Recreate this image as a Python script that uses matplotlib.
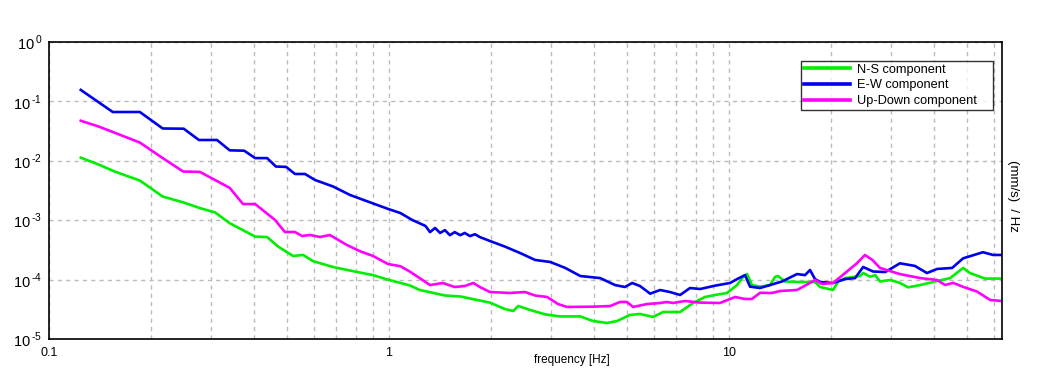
import math
import matplotlib
matplotlib.use("Agg")
import matplotlib.pyplot as plt
from matplotlib.ticker import LogLocator, FuncFormatter, NullFormatter

plt.rcParams['font.family'] = ['Liberation Sans', 'DejaVu Sans']
plt.rcParams['mathtext.fontset'] = 'custom'
plt.rcParams['mathtext.rm'] = 'Liberation Sans'

# PSD, (mm/s)^2/Hz vs frequency in Hz
ns_freq = [0.124, 0.141, 0.156, 0.185, 0.216, 0.248, 0.278, 0.308, 0.340, 0.404,
           0.438, 0.472, 0.522, 0.559, 0.597, 0.684, 0.768, 0.897, 1.00, 1.15,
           1.23, 1.46, 1.62, 1.98, 2.19, 2.32, 2.40, 2.60, 2.88, 3.18,
           3.65, 3.98, 4.38, 4.69, 5.11, 5.47, 5.98, 6.40, 7.18, 7.84,
           8.50, 9.09, 9.86, 10.56, 10.99, 11.30, 11.68, 12.34, 13.21, 13.65,
           13.93, 14.61, 16.17, 17.90, 18.52, 20.23, 20.94, 21.95, 24.28, 24.8,
           26.0, 26.9, 27.8, 29.8, 31.8, 33.6, 36.5, 40.4, 44.7, 48.8,
           51.1, 56.6, 63.5]
ns_psd = [1.13e-2, 8.5e-3, 6.6e-3, 4.65e-3, 2.5e-3, 2.0e-3, 1.6e-3, 1.35e-3, 8.9e-4, 5.3e-4,
          5.2e-4, 3.6e-4, 2.5e-4, 2.6e-4, 2.05e-4, 1.63e-4, 1.42e-4, 1.19e-4, 9.85e-5, 8.0e-5,
          6.7e-5, 5.4e-5, 5.2e-5, 4.1e-5, 3.2e-5, 2.96e-5, 3.6e-5, 3.08e-5, 2.6e-5, 2.4e-5,
          2.4e-5, 2.01e-5, 1.86e-5, 2.01e-5, 2.54e-5, 2.64e-5, 2.35e-5, 2.85e-5, 2.85e-5, 4.04e-5,
          5.1e-5, 5.5e-5, 5.95e-5, 8.1e-5, 1.11e-4, 1.24e-4, 8.1e-5, 7.6e-5, 8.1e-5, 1.11e-4,
          1.15e-4, 9.3e-5, 9.1e-5, 9.1e-5, 7.5e-5, 6.7e-5, 9.3e-5, 1.06e-4, 1.15e-4, 1.29e-4,
          1.12e-4, 1.19e-4, 9.3e-5, 9.85e-5, 8.8e-5, 7.4e-5, 8.1e-5, 9.3e-5, 1.06e-4, 1.57e-4,
          1.29e-4, 1.04e-4, 1.04e-4]

ew_freq = [0.124, 0.154, 0.185, 0.216, 0.249, 0.276, 0.312, 0.340, 0.375, 0.404,
           0.438, 0.465, 0.498, 0.529, 0.566, 0.606, 0.684, 0.768, 0.879, 0.993,
           1.08, 1.17, 1.28, 1.32, 1.366, 1.413, 1.46, 1.51, 1.56, 1.62,
           1.67, 1.73, 1.79, 1.85, 1.98, 2.19, 2.43, 2.69, 2.98, 3.30,
           3.65, 4.18, 4.62, 4.94, 5.19, 5.47, 5.86, 6.27, 6.70, 7.18,
           7.68, 8.22, 9.09, 10.07, 10.56, 11.14, 11.53, 12.34, 13.21, 14.32,
           15.85, 16.73, 17.31, 17.90, 18.52, 20.23, 21.95, 23.48, 24.8, 26.5,
           28.8, 31.8, 35.2, 38.2, 40.9, 45.3, 48.8, 55.8, 59.8, 63.5]
ew_psd = [1.56e-1, 6.63e-2, 6.63e-2, 3.5e-2, 3.47e-2, 2.24e-2, 2.24e-2, 1.5e-2, 1.48e-2, 1.11e-2,
          1.11e-2, 8.0e-3, 7.9e-3, 6.0e-3, 6.0e-3, 4.75e-3, 3.7e-3, 2.66e-3, 2.0e-3, 1.55e-3,
          1.32e-3, 1.01e-3, 8.0e-4, 6.3e-4, 7.4e-4, 6.1e-4, 6.8e-4, 5.6e-4, 6.3e-4, 5.6e-4,
          6.1e-4, 5.4e-4, 5.8e-4, 5.2e-4, 4.47e-4, 3.6e-4, 2.8e-4, 2.14e-4, 1.98e-4, 1.57e-4,
          1.15e-4, 1.06e-4, 8.1e-5, 7.5e-5, 8.77e-5, 7.8e-5, 5.8e-5, 6.68e-5, 6.18e-5, 5.51e-5,
          7.22e-5, 6.94e-5, 7.9e-5, 8.77e-5, 1.02e-4, 1.19e-4, 7.6e-5, 7.22e-5, 8.11e-5, 9.3e-5,
          1.24e-4, 1.19e-4, 1.45e-4, 1.02e-4, 9.12e-5, 8.77e-5, 1.02e-4, 1.06e-4, 1.63e-4, 1.37e-4,
          1.34e-4, 1.88e-4, 1.7e-4, 1.29e-4, 1.51e-4, 1.57e-4, 2.28e-4, 2.89e-4, 2.6e-4, 2.6e-4]

ud_freq = [0.124, 0.141, 0.185, 0.216, 0.248, 0.278, 0.340, 0.372, 0.404, 0.462,
           0.494, 0.529, 0.555, 0.586, 0.627, 0.670, 0.752, 0.822, 0.897, 0.993,
           1.08, 1.15, 1.23, 1.32, 1.44, 1.56, 1.67, 1.77, 1.85, 1.98,
           2.27, 2.51, 2.69, 2.915, 3.14, 3.34, 3.98, 4.47, 4.78, 5.01,
           5.22, 5.74, 6.27, 6.57, 6.84, 7.42, 8.22, 9.41, 10.42, 11.14,
           11.68, 12.34, 13.38, 14.12, 15.85, 17.07, 17.90, 18.78, 20.23, 21.95,
           23.79, 25.1, 26.4, 27.8, 31.8, 36.5, 40.9, 43.2, 45.6, 48.8,
           53.6, 58.6, 63.5]
ud_psd = [4.73e-2, 3.72e-2, 2.03e-2, 1.11e-2, 6.6e-3, 6.5e-3, 3.5e-3, 1.87e-3, 1.87e-3, 1.01e-3,
          6.33e-4, 6.33e-4, 5.42e-4, 5.64e-4, 5.21e-4, 5.64e-4, 3.82e-4, 3.0e-4, 2.5e-4, 1.83e-4,
          1.68e-4, 1.37e-4, 1.06e-4, 8.1e-5, 8.77e-5, 7.5e-5, 7.8e-5, 8.77e-5, 7.5e-5, 6.18e-5,
          5.95e-5, 6.18e-5, 5.4e-5, 5.1e-5, 3.88e-5, 3.46e-5, 3.5e-5, 3.59e-5, 4.2e-5, 4.2e-5,
          3.46e-5, 3.88e-5, 4.04e-5, 4.2e-5, 4.04e-5, 4.36e-5, 4.1e-5, 4.04e-5, 5.1e-5, 4.72e-5,
          4.72e-5, 6.0e-5, 5.95e-5, 6.43e-5, 6.68e-5, 8.43e-5, 9.85e-5, 8.43e-5, 8.77e-5, 1.29e-4,
          1.89e-4, 2.6e-4, 2.14e-4, 1.57e-4, 1.24e-4, 1.06e-4, 9.85e-5, 8.11e-5, 8.8e-5, 7.55e-5,
          6.3e-5, 4.54e-5, 4.36e-5]

labels = ['N-S component', 'E-W component', 'Up-Down component']
colors = ['#00ee00', '#0000ee', '#ff00ff']

fig = plt.figure(figsize=(10.51, 3.82), dpi=100)
ax = fig.add_axes([49/1051, 1 - 339/382, (1002 - 49)/1051, (339 - 42)/382])

ax.plot(ns_freq, ns_psd, color=colors[0], lw=1.9, label=labels[0])
ax.plot(ew_freq, ew_psd, color=colors[1], lw=1.9, label=labels[1])
ax.plot(ud_freq, ud_psd, color=colors[2], lw=1.9, label=labels[2])

ax.set_xscale('log')
ax.set_yscale('log')
ax.set_xlim(0.1, 63.5)
ax.set_ylim(1e-5, 1)

ax.xaxis.set_major_locator(LogLocator(base=10))
ax.xaxis.set_minor_locator(LogLocator(base=10, subs=range(2, 10)))
ax.xaxis.set_minor_formatter(NullFormatter())
ax.xaxis.set_major_formatter(FuncFormatter(lambda v, p: '%g' % v))
ax.yaxis.set_major_locator(LogLocator(base=10))
ax.yaxis.set_minor_locator(plt.NullLocator())
# hyphen instead of the wide math minus, like the original labels
ax.yaxis.set_major_formatter(FuncFormatter(
    lambda v, p: r'$10^{\,\text{%d}}$' % round(math.log10(v))))

ax.tick_params(which='both', length=0, colors='black')
ax.tick_params(axis='x', labelsize=9, pad=6)
ax.tick_params(axis='y', labelsize=10.5, pad=5)

ax.grid(True, which='major', color='#bcbcbc', ls=(0, (3, 3)), lw=1)
ax.grid(True, which='minor', axis='x', color='#bcbcbc', ls=(0, (3, 3)), lw=1)
for s in ax.spines.values():
    s.set_linewidth(1.2)
    s.set_color('black')

fig.text(572/1051, 1 - 360/382, 'frequency [Hz]', ha='center', va='center', fontsize=8.5)
fig.text(1013/1051, 1 - 196/382, '(mm/s)  / Hz', rotation=270, ha='center', va='center', fontsize=9.5)

leg = ax.legend(loc='upper left', bbox_to_anchor=(801/1051, 1 - 107/382, 192/1051, 46/382),
                bbox_transform=fig.transFigure, mode='expand',
                fontsize=9.2, frameon=True, fancybox=False, borderaxespad=0, handlelength=3.6,
                borderpad=0.2, labelspacing=0.3, handletextpad=0.6)
leg.get_frame().set_edgecolor('black')
leg.get_frame().set_linewidth(1.0)
for h in leg.get_lines():
    h.set_linewidth(2.6)

fig.savefig('out.png', dpi=100)
